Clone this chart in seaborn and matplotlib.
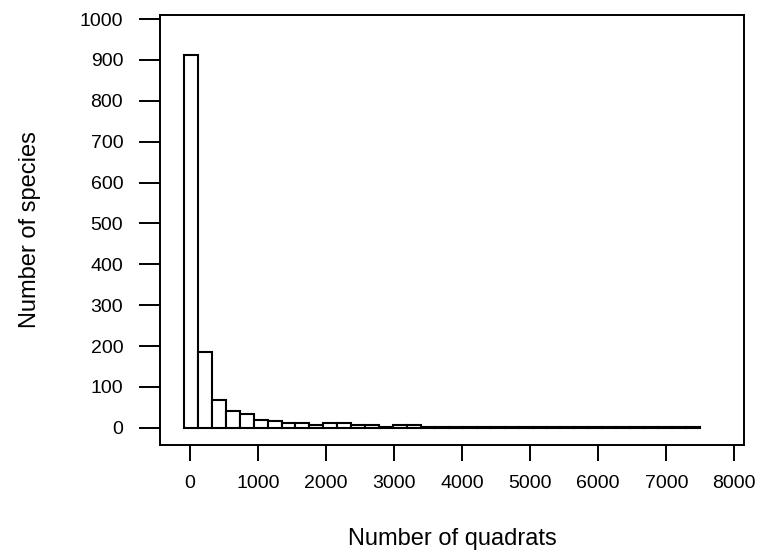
import numpy as np
import pandas as pd
import matplotlib
matplotlib.use("Agg")
import matplotlib.pyplot as plt
import seaborn as sns

# Histogram of species occupancy: number of quadrats each species occurs in
bin_start = -90
bin_width = 205
species_counts = [912, 186, 69, 41, 35, 20, 16, 11, 11, 6,
                  12, 12, 6, 6, 2, 6, 6, 3, 2, 2,
                  3, 2, 1, 2, 2, 1, 2, 1, 1, 2,
                  1, 1, 1, 1, 1, 1, 1]
x_ticks = [0, 1000, 2000, 3000, 4000, 5000, 6000, 7000, 8000]
y_ticks = [0, 100, 200, 300, 400, 500, 600, 700, 800, 900, 1000]
x_label = "Number of quadrats"
y_label = "Number of species"

n_bins = len(species_counts)
edges = bin_start + bin_width * np.arange(n_bins + 1)
centers = (edges[:-1] + edges[1:]) / 2
df = pd.DataFrame({"quadrats": centers, "species": species_counts})

sns.set_style("white")
plt.rcParams["font.family"] = ["Liberation Sans", "DejaVu Sans"]

fig = plt.figure(figsize=(7.65, 5.53), dpi=100)
ax = fig.add_axes([160 / 765, 108 / 553, (744.3 - 160) / 765, (445 - 15) / 553])

sns.histplot(data=df, x="quadrats", weights="species",
             binwidth=bin_width, binrange=(edges[0], edges[-1]),
             color="white", edgecolor="black", linewidth=1.5, alpha=1,
             ax=ax)

ax.set_xlim(-441, 8147)
ax.set_ylim(-42, 1010)
ax.set_xticks(x_ticks)
ax.set_yticks(y_ticks)
ax.set_xticklabels([str(t) for t in x_ticks])
ax.set_yticklabels([str(t) for t in y_ticks])
ax.tick_params(axis="both", direction="out", width=1.4, labelsize=14,
               colors="black", labelcolor="black", bottom=True, left=True)
ax.tick_params(axis="y", length=15, pad=11.5)
ax.tick_params(axis="x", length=11.5, pad=10)
for s in ax.spines.values():
    s.set_visible(True)
    s.set_linewidth(1.4)
    s.set_color("black")

ax.set_xlabel(x_label, fontsize=17, labelpad=26, color="black")
ax.set_ylabel(y_label, fontsize=17, labelpad=28, color="black")

fig.savefig("out.png", dpi=100)
